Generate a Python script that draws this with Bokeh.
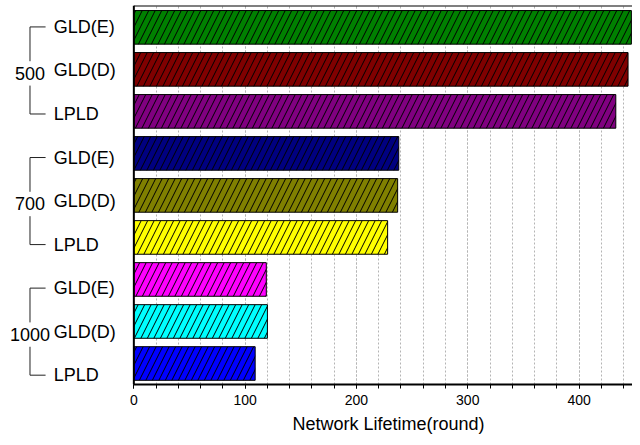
from bokeh.plotting import figure
from bokeh.models import Range1d, SingleIntervalTicker, ColumnDataSource, Title
from bokeh.core.properties import value
from bokeh.embed import file_html
from bokeh.resources import INLINE

# ---- data ----
groups = ["500", "700", "1000"]
methods = ["GLD(E)", "GLD(D)", "LPLD"]
lifetime_500 = [447, 444, 433]
lifetime_700 = [238, 237, 228]
lifetime_1000 = [119, 120, 109]
colors_500 = ["#008000", "#800000", "#800080"]
colors_700 = ["#000080", "#808000", "#FFFF00"]
colors_1000 = ["#FF00FF", "#00FFFF", "#0000FF"]
x_ticks_interval = 100
x_title = "Network Lifetime(round)"

FONT = "Liberation Sans"

values = lifetime_500 + lifetime_700 + lifetime_1000
colors = colors_500 + colors_700 + colors_1000
labels = methods * len(groups)
n = len(values)
bar_y = [n - 1 - k for k in range(n)]           # top bar first
# the label axis in the original is slightly stretched vs the bars
lab_y = [8.01 - k * 1.036 for k in range(n)]

X0, X1 = -119.8, 448.0
Y0, Y1 = -0.5, 8.52
p = figure(width=632, height=437, output_backend="svg", toolbar_location=None,
           x_range=Range1d(X0, X1), y_range=Range1d(Y0, Y1),
           min_border_left=0, min_border_right=0, min_border_top=5,
           min_border_bottom=0)
p.outline_line_color = None
p.yaxis.visible = False
p.ygrid.visible = False

src = ColumnDataSource(dict(y=bar_y, v=values, c=colors))
p.hbar(y="y", left=0, right="v", height=0.8, fill_color="c", line_color="black",
       line_width=1, hatch_pattern="/", hatch_color="black", hatch_scale=13,
       hatch_weight=1, source=src)

# axes frame lines (left, top)
p.segment(x0=[0], x1=[0], y0=[Y0], y1=[Y1], line_color="black", line_width=2)
p.segment(x0=[0], x1=[X1], y0=[Y1], y1=[Y1], line_color="black", line_width=2)

# x axis
ticker = SingleIntervalTicker(interval=x_ticks_interval, num_minor_ticks=5)
ax = p.xaxis[0]
ax.ticker = ticker
ax.bounds = (0, X1)
ax.axis_line_width = 2
ax.axis_line_color = "black"
ax.major_tick_line_color = "black"
ax.minor_tick_line_color = "black"
ax.major_tick_in = 0
ax.major_tick_out = 4
ax.minor_tick_in = 0
ax.minor_tick_out = 4
ax.major_label_text_font = FONT
ax.major_label_text_font_size = "14px"
ax.major_label_text_color = "black"
ax.major_label_standoff = 6

p.add_layout(Title(text=x_title, align="left", offset=292, standoff=8,
                   text_font=FONT, text_font_size="18px",
                   text_font_style="normal", text_color="black"), "below")

g = p.xgrid[0]
g.ticker = ticker
g.bounds = (0, X1)
g.grid_line_color = "#b4b4b4"
g.grid_line_dash = "2 2"
g.minor_grid_line_color = "#b4b4b4"
g.minor_grid_line_dash = "2 2"

# category labels
p.text(x=[-72] * n, y=lab_y, text=labels, text_font=value(FONT),
       text_font_size=value("18px"), text_align="left", text_baseline="middle",
       text_color="black")

# group labels and brackets
bx, hx = -93.3, -79.3
gap = 0.29
for gi, gname in enumerate(groups):
    top = lab_y[gi * 3]
    mid = lab_y[gi * 3 + 1] - 0.07
    bot = lab_y[gi * 3 + 2]
    p.text(x=[bx], y=[mid], text=[gname], text_font=value(FONT),
           text_font_size=value("18px"), text_align="center",
           text_baseline="middle", text_color="black")
    p.segment(x0=[bx, bx, bx, bx], x1=[hx, bx, bx, hx],
              y0=[top, top, mid - gap, bot], y1=[top, mid + gap, bot, bot],
              line_color="#222222", line_width=1)

open("out.html", "w").write(file_html(p, INLINE))
